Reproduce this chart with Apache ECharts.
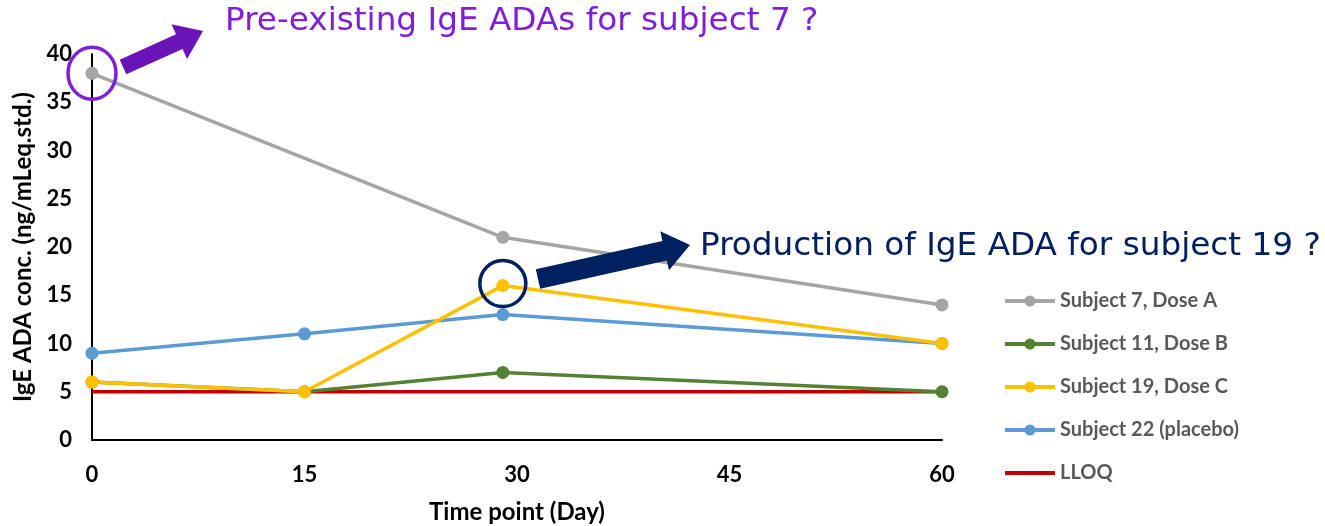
<!DOCTYPE html>
<html><head><meta charset="utf-8">
<script src="https://cdn.jsdelivr.net/npm/echarts@6/dist/echarts.min.js"></script>
<style>html,body{margin:0;padding:0;background:#fff}#c{width:1325px;height:526px}</style>
</head><body><div id="c"></div>
<script>
const days = [0, 15, 29, 60];
const subject7 = [38, null, 21, 14];
const subject11 = [6, 5, 7, 5];
const subject19 = [6, 5, 16, 10];
const subject22 = [9, 11, 13, 10];
const lloqDays = [0, 60];
const lloq = [5, 5];
const seriesNames = ['Subject 7, Dose A', 'Subject 11, Dose B', 'Subject 19, Dose C', 'Subject 22 (placebo)', 'LLOQ'];
const xTicks = [0, 15, 30, 45, 60];
const note1 = 'Pre-existing IgE ADAs for subject 7 ?';
const note2 = 'Production of IgE ADA for subject 19 ?';

const colors = ['#A5A5A5', '#548235', '#FFC000', '#5B9BD5', '#C00000'];
const pair = (xs, ys) => xs.map((x, i) => [x, ys[i]]);

const chart = echarts.init(document.getElementById('c'));
const lineSeries = (name, xs, ys, color, sym) => ({
  name, type: 'line', data: pair(xs, ys), connectNulls: true,
  symbol: sym ? 'circle' : 'none', symbolSize: 13, showSymbol: sym,
  lineStyle: { color, width: 3.5 }, itemStyle: { color }, z: 3
});
const boldFont = { fontFamily: 'Lato', fontWeight: 'bold', color: '#000' };
chart.setOption({
  animation: false,
  grid: { left: 92, right: 383, top: 54, bottom: 86, outerBoundsMode: 'none', containLabel: false },
  xAxis: {
    type: 'value', min: 0, max: 60, interval: 15,
    name: 'Time point (Day)', nameLocation: 'middle', nameGap: 60,
    nameTextStyle: Object.assign({ fontSize: 24 }, boldFont),
    axisLine: { lineStyle: { color: '#000', width: 2 } },
    axisTick: { show: false }, splitLine: { show: false },
    axisLabel: Object.assign({ margin: 24, fontSize: 22,
      formatter: v => xTicks.includes(v) ? String(v) : '' }, boldFont)
  },
  yAxis: {
    type: 'value', min: 0, max: 40, interval: 5,
    name: 'IgE ADA conc. (ng/mLeq.std.)', nameLocation: 'middle', nameGap: 54,
    nameTextStyle: Object.assign({ fontSize: 24 }, boldFont),
    axisLine: { show: true, lineStyle: { color: '#000', width: 2 } },
    axisTick: { show: false }, splitLine: { show: false },
    axisLabel: Object.assign({ margin: 20, fontSize: 22 }, boldFont)
  },
  legend: {
    orient: 'vertical', left: 998, top: 286, itemWidth: 50, itemHeight: 14, itemGap: 23,
    data: seriesNames.map(n => n === 'LLOQ' ? { name: n, itemStyle: { opacity: 0 } } : n),
    lineStyle: { width: 4 },
    textStyle: { fontFamily: 'Lato', fontWeight: 'bold', fontSize: 20, lineHeight: 20, color: '#595959' }
  },
  series: [
    lineSeries(seriesNames[4], lloqDays, lloq, colors[4], false),
    lineSeries(seriesNames[0], days, subject7, colors[0], true),
    lineSeries(seriesNames[1], days, subject11, colors[1], true),
    lineSeries(seriesNames[3], days, subject22, colors[3], true),
    lineSeries(seriesNames[2], days, subject19, colors[2], true)
  ]
});

function arrow(x0, y0, x1, y1, shaftW, headW, headL, color) {
  const dx = x1 - x0, dy = y1 - y0, L = Math.hypot(dx, dy);
  const ux = dx / L, uy = dy / L, nx = -uy, ny = ux;
  const bx = x1 - ux * headL, by = y1 - uy * headL;
  const p = (x, y, w) => [x + nx * w, y + ny * w];
  return { type: 'polygon', z: 10, shape: { points: [
    p(x0, y0, shaftW / 2), p(bx, by, shaftW / 2), p(bx, by, headW / 2), [x1, y1],
    p(bx, by, -headW / 2), p(bx, by, -shaftW / 2), p(x0, y0, -shaftW / 2)
  ] }, style: { fill: color } };
}
const c1 = chart.convertToPixel({ gridIndex: 0 }, [days[0], subject7[0]]);
const c2 = chart.convertToPixel({ gridIndex: 0 }, [days[2], subject19[2]]);
chart.setOption({ graphic: [
  { type: 'ellipse', z: 10, shape: { cx: c1[0], cy: c1[1], rx: 24, ry: 26 }, style: { fill: null, stroke: '#7F20D8', lineWidth: 3.5 } },
  { type: 'circle', z: 10, shape: { cx: c2[0], cy: c2[1] - 2, r: 23 }, style: { fill: null, stroke: '#002060', lineWidth: 3.5 } },
  arrow(123, 67, 203, 31, 16, 38, 26, '#6A14B8'),
  arrow(538, 279, 690, 245, 20, 40, 26, '#002060'),
  { type: 'text', z: 10, x: 225, y: 22, style: { text: note1, fill: '#7F20D8', font: '32.7px "DejaVu Sans"', verticalAlign: 'middle' } },
  { type: 'text', z: 10, x: 700, y: 247, style: { text: note2, fill: '#002060', font: '32.7px "DejaVu Sans"', verticalAlign: 'middle' } }
] });
</script></body></html>
